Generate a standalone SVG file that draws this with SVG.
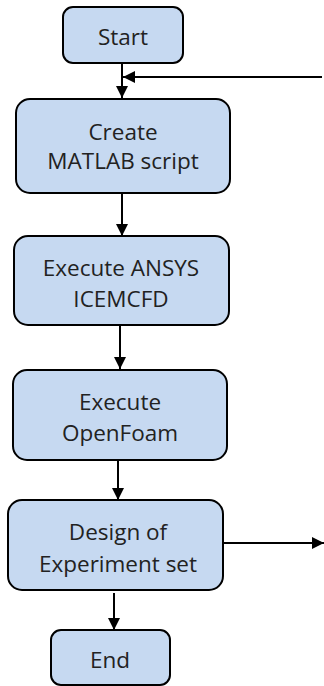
<svg xmlns="http://www.w3.org/2000/svg" width="324" height="686" viewBox="0 0 324 686">
<defs>
<style>
.box{fill:#c6d9f1;stroke:#000;stroke-width:2}
.t{font-family:"Open Sans","Liberation Sans",Arial,sans-serif;font-size:22.5px;fill:#222;text-anchor:middle}
.ln{stroke:#000;stroke-width:2;fill:none}
</style>
<marker id="ah" viewBox="0 0 12 12" refX="12" refY="6" markerWidth="12" markerHeight="12" markerUnits="userSpaceOnUse" orient="auto">
<path d="M0,0 L12,6 L0,12 Z" fill="#000"/>
</marker>
</defs>
<rect width="324" height="686" fill="#fff"/>
<g id="connectors">
<line class="ln" x1="122" y1="63" x2="122" y2="98" marker-end="url(#ah)"/>
<line class="ln" x1="322" y1="77" x2="123" y2="77" marker-end="url(#ah)"/>
<line class="ln" x1="122" y1="193" x2="122" y2="236" marker-end="url(#ah)"/>
<line class="ln" x1="120" y1="325" x2="120" y2="369" marker-end="url(#ah)"/>
<line class="ln" x1="118" y1="460" x2="118" y2="500" marker-end="url(#ah)"/>
<line class="ln" x1="223" y1="543" x2="324" y2="543" marker-end="url(#ah)"/>
<line class="ln" x1="114" y1="593" x2="114" y2="630" marker-end="url(#ah)"/>
</g>
<g id="start">
<rect class="box" x="63" y="7" width="120" height="56" rx="10"/>
<text class="t" x="123" y="45">Start</text>
</g>
<g id="create">
<rect class="box" x="16" y="99" width="214" height="94" rx="14"/>
<text class="t" x="123" y="140">Create</text>
<text class="t" x="123" y="169">MATLAB script</text>
</g>
<g id="ansys">
<rect class="box" x="14" y="236" width="215" height="89" rx="14"/>
<text class="t" x="121" y="276">Execute ANSYS</text>
<text class="t" x="121" y="307">ICEMCFD</text>
</g>
<g id="openfoam">
<rect class="box" x="13" y="370" width="214" height="90" rx="14"/>
<text class="t" x="120" y="410">Execute</text>
<text class="t" x="120" y="441">OpenFoam</text>
</g>
<g id="design">
<rect class="box" x="8" y="500" width="215" height="90" rx="14"/>
<text class="t" x="118" y="540">Design of</text>
<text class="t" x="118" y="572">Experiment set</text>
</g>
<g id="end">
<rect class="box" x="51" y="630" width="119" height="55" rx="10"/>
<text class="t" x="110" y="668">End</text>
</g>
</svg>
